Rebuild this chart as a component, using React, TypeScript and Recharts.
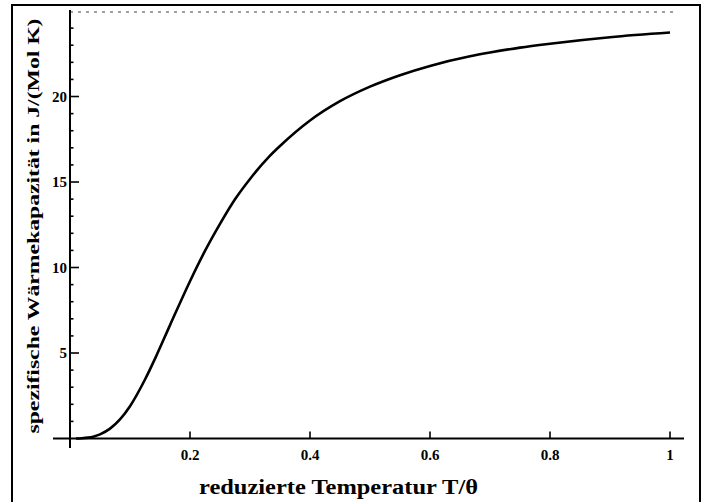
import { Line, LineChart, ReferenceLine, XAxis, YAxis } from "recharts";

// reduced temperature T/θ and molar heat capacity in J/(Mol K)
const temps = [
  0.01, 0.02, 0.03, 0.04, 0.05, 0.0667, 0.0833, 0.1, 0.125, 0.1429, 0.1667, 0.2, 0.225, 0.25, 0.275, 0.3,
  0.333, 0.35, 0.4, 0.45, 0.5, 0.55, 0.6, 0.6667, 0.7, 0.75, 0.8, 0.9, 1.0,
];
const heatCap = [
  0.002, 0.016, 0.052, 0.124, 0.243, 0.576, 1.117, 1.89, 3.45, 4.76, 6.63, 9.2, 10.97, 12.55, 13.99, 15.18,
  16.53, 17.11, 18.6, 19.73, 20.58, 21.25, 21.79, 22.35, 22.57, 22.86, 23.09, 23.47, 23.74,
];
const dulongPetit = 24.94;
const xTicks = [0.2, 0.4, 0.6, 0.8, 1];
const yTicks = [1, 2, 3, 4, 5, 6, 7, 8, 9, 10, 11, 12, 13, 14, 15, 16, 17, 18, 19, 20, 21, 22, 23, 24];
const yMajor = [5, 10, 15, 20];

const data = temps.map((t, i) => ({ t, c: heatCap[i] }));

const FONT = "'Liberation Serif', 'DejaVu Serif', serif";

function XTick(props: any) {
  const x = Number(props.x);
  const y = Number(props.y);
  return (
    <g>
      <path d={`M${x},${y - 7}L${x},${y}`} stroke="#000" strokeWidth={1.6} fill="none" />
      <text x={x} y={y + 21} textAnchor="middle" fontFamily={FONT} fontWeight="bold" fontSize={15} fill="#000">
        {props.payload.value}
      </text>
    </g>
  );
}

function YTick(props: any) {
  const x = Number(props.x);
  const y = Number(props.y);
  const major = yMajor.includes(props.payload.value);
  return (
    <g>
      <path d={`M${x},${y}L${x + (major ? 9 : 3.5)},${y}`} stroke="#000" strokeWidth={1.6} fill="none" />
      {major && (
        <text
          x={x - 3}
          y={y}
          textAnchor="end"
          dominantBaseline="central"
          fontFamily={FONT}
          fontWeight="bold"
          fontSize={15}
          fill="#000"
        >
          {props.payload.value}
        </text>
      )}
    </g>
  );
}

export default function App() {
  return (
    <div style={{ position: "absolute", left: 0, top: 0, width: 704, height: 502, background: "#fff", overflow: "hidden" }}>
      <div
        style={{
          position: "absolute",
          left: 11,
          top: 4,
          width: 686,
          height: 520,
          borderLeft: "2px solid #000",
          borderTop: "2px solid #000",
          borderRight: "2px solid #000",
        }}
      />
      <div style={{ position: "absolute", left: 0, top: 0 }}>
        <LineChart width={704} height={502} data={data} margin={{ top: 10, right: 20, left: 10, bottom: 33.5 }}>
          <XAxis
            type="number"
            dataKey="t"
            domain={[0, 1.0233]}
            ticks={xTicks}
            interval={0}
            axisLine={false}
            tickLine={false}
            tickSize={0}
            tickMargin={0}
            height={30}
            tick={(p: any) => <XTick {...p} />}
          />
          <YAxis
            type="number"
            domain={[0, 25.06]}
            ticks={yTicks}
            interval={0}
            axisLine={false}
            tickLine={false}
            tickSize={0}
            tickMargin={0}
            width={60}
            tick={(p: any) => <YTick {...p} />}
          />
          <ReferenceLine
            segment={[
              { x: 0, y: dulongPetit },
              { x: 1.013, y: dulongPetit },
            ]}
            stroke="#808080"
            strokeWidth={1.5}
            strokeDasharray="3 5"
            ifOverflow="visible"
          />
          <ReferenceLine
            segment={[
              { x: -0.0283, y: 0 },
              { x: 1.0233, y: 0 },
            ]}
            stroke="#000"
            strokeWidth={2.2}
            ifOverflow="visible"
          />
          <ReferenceLine
            segment={[
              { x: 0, y: -0.556 },
              { x: 0, y: 25.06 },
            ]}
            stroke="#000"
            strokeWidth={2}
            ifOverflow="visible"
          />
          <Line
            type="monotone"
            dataKey="c"
            stroke="#000"
            strokeWidth={2.6}
            dot={false}
            isAnimationActive={false}
          />
        </LineChart>
      </div>
      <svg width={704} height={502} style={{ position: "absolute", left: 0, top: 0, pointerEvents: "none" }}>
        <text
          x={338.5}
          y={494}
          textAnchor="middle"
          fontFamily={FONT}
          fontWeight="bold"
          fontSize={20}
          textLength={279}
          lengthAdjust="spacingAndGlyphs"
          fill="#000"
        >
          reduzierte Temperatur T/θ
        </text>
        <text
          transform="translate(39,226) rotate(-90)"
          textAnchor="middle"
          fontFamily={FONT}
          fontWeight="bold"
          fontSize={17}
          textLength={415}
          lengthAdjust="spacingAndGlyphs"
          fill="#000"
        >
          spezifische Wärmekapazität in J/(Mol K)
        </text>
      </svg>
    </div>
  );
}
